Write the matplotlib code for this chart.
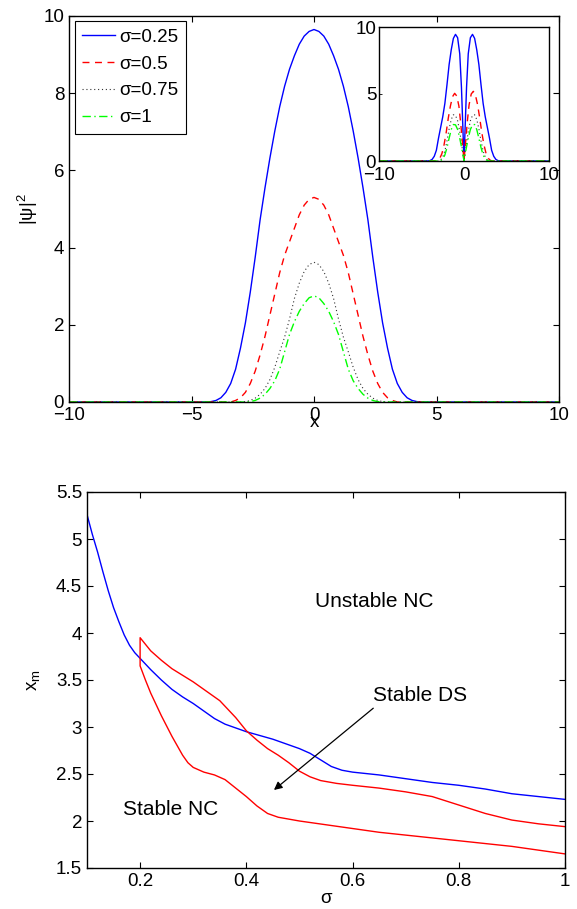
import numpy as np
import matplotlib
matplotlib.use("Agg")
import matplotlib.pyplot as plt

plt.rcParams['font.family'] = ['Liberation Sans', 'DejaVu Sans']
plt.rcParams['mathtext.fontset'] = 'custom'
plt.rcParams['mathtext.rm'] = 'Liberation Sans'
plt.rcParams['mathtext.it'] = 'Liberation Sans'

# ---------------- top panel data: |psi|^2 profiles ----------------
x_main = [-10, -4.4, -4.2, -4.0, -3.8, -3.6, -3.4, -3.2, -3.0, -2.8, -2.6, -2.4, -2.2,
          -2.0, -1.8, -1.6, -1.4, -1.2, -1.0, -0.8, -0.6, -0.4, -0.2, 0.0,
          0.2, 0.4, 0.6, 0.8, 1.0, 1.2, 1.4, 1.6, 1.8, 2.0, 2.2, 2.4, 2.6, 2.8,
          3.0, 3.2, 3.4, 3.6, 3.8, 4.0, 4.2, 4.4, 10]
psi_025 = [0, 0, 0.01, 0.04, 0.11, 0.25, 0.48, 0.85, 1.4, 2.05, 2.85, 3.75, 4.72,
           5.55, 6.32, 7.02, 7.65, 8.18, 8.62, 8.97, 9.27, 9.48, 9.6, 9.65,
           9.6, 9.48, 9.27, 8.97, 8.62, 8.18, 7.65, 7.02, 6.32, 5.55, 4.72, 3.75, 2.85, 2.05,
           1.4, 0.85, 0.48, 0.25, 0.11, 0.04, 0.01, 0, 0]
psi_05 = [0, 0, 0, 0, 0, 0, 0, 0.04, 0.11, 0.25, 0.48, 0.8, 1.22,
          1.7, 2.25, 2.8, 3.35, 3.8, 4.15, 4.5, 4.85, 5.1, 5.25, 5.3,
          5.25, 5.1, 4.85, 4.5, 4.15, 3.8, 3.35, 2.8, 2.25, 1.7, 1.22, 0.8, 0.48, 0.25,
          0.11, 0.04, 0, 0, 0, 0, 0, 0, 0]
psi_075 = [0, 0, 0, 0, 0, 0, 0, 0, 0, 0.01, 0.04, 0.1, 0.2,
           0.35, 0.58, 0.9, 1.3, 1.68, 2.15, 2.68, 3.08, 3.38, 3.56, 3.62,
           3.56, 3.38, 3.08, 2.68, 2.15, 1.68, 1.3, 0.9, 0.58, 0.35, 0.2, 0.1, 0.04, 0.01,
           0, 0, 0, 0, 0, 0, 0, 0, 0]
psi_1 = [0, 0, 0, 0, 0, 0, 0, 0, 0, 0, 0.01, 0.04, 0.1,
         0.2, 0.35, 0.55, 0.85, 1.3, 1.75, 2.08, 2.35, 2.55, 2.7, 2.75,
         2.7, 2.55, 2.35, 2.08, 1.75, 1.3, 0.85, 0.55, 0.35, 0.2, 0.1, 0.04, 0.01, 0,
         0, 0, 0, 0, 0, 0, 0, 0, 0]

# ---------------- inset data: dipole profiles ----------------
x_in_b = [-10, -4.25, -4.0, -3.75, -3.5, -3.25, -3.0, -2.75, -2.5, -2.25, -2.0, -1.75, -1.5,
          -1.25, -1.0, -0.75, -0.5, -0.3, -0.15, 0.0, 0.15, 0.3, 0.5, 0.75, 1.0, 1.25,
          1.5, 1.75, 2.0, 2.25, 2.5, 2.75, 3.0, 3.25, 3.5, 3.75, 4.0, 4.25, 10]
in_025 = [0, 0, 0.03, 0.12, 0.35, 0.8, 1.7, 2.5, 3.3, 4.3, 5.7, 7.2, 8.3,
          9.15, 9.45, 9.2, 8.0, 5.5, 2.8, 0.0, 2.8, 5.5, 8.0, 9.2, 9.45, 9.15,
          8.3, 7.2, 5.7, 4.3, 3.3, 2.5, 1.7, 0.8, 0.35, 0.12, 0.03, 0, 0]
x_in_r = [-10, -3.35, -3.1, -2.85, -2.6, -2.35, -2.1, -1.85, -1.6, -1.35, -1.1, -0.85,
          -0.6, -0.4, -0.2, 0.0, 0.2, 0.4, 0.6, 0.85, 1.1, 1.35, 1.6, 1.85, 2.1,
          2.35, 2.6, 2.85, 3.1, 3.35, 10]
in_05 = [0, 0, 0.05, 0.2, 0.55, 1.2, 2.1, 3.2, 4.1, 4.8, 5.05, 4.85, 4.1, 2.9, 1.5, 0.0,
         1.5, 3.0, 4.2, 5.0, 5.2, 4.9, 4.2, 3.2, 2.1, 1.2, 0.55, 0.2, 0.05, 0, 0]
x_in_k = [-10, -3.0, -2.75, -2.5, -2.25, -2.0, -1.75, -1.5, -1.25, -1.0, -0.75, -0.5,
          -0.25, 0.0, 0.25, 0.5, 0.75, 1.0, 1.25, 1.5, 1.75, 2.0, 2.25, 2.5, 2.75, 3.0, 10]
in_075 = [0, 0, 0.08, 0.3, 0.75, 1.5, 2.4, 3.1, 3.45, 3.4, 3.0, 2.2, 1.1, 0.0,
          1.1, 2.2, 3.0, 3.4, 3.45, 3.1, 2.4, 1.5, 0.75, 0.3, 0.08, 0, 0]
in_1 = [0, 0, 0.03, 0.15, 0.45, 1.0, 1.7, 2.35, 2.72, 2.7, 2.35, 1.7, 0.9, 0.0,
        0.9, 1.7, 2.35, 2.7, 2.72, 2.35, 1.7, 1.0, 0.45, 0.15, 0.03, 0, 0]

# ---------------- bottom panel data ----------------
sig_blue = [0.1, 0.11, 0.12, 0.13, 0.14, 0.15, 0.16, 0.17, 0.18, 0.19, 0.2, 0.22, 0.24,
            0.26, 0.28, 0.30, 0.32, 0.34, 0.36, 0.38, 0.40, 0.45, 0.50, 0.52, 0.54,
            0.56, 0.58, 0.60, 0.65, 0.70, 0.75, 0.80, 0.85, 0.90, 0.95, 1.0]
xm_blue = [5.26, 5.05, 4.86, 4.65, 4.45, 4.27, 4.12, 3.98, 3.87, 3.79, 3.73, 3.61, 3.50,
           3.40, 3.32, 3.25, 3.17, 3.09, 3.03, 2.99, 2.95, 2.87, 2.77, 2.72, 2.65,
           2.58, 2.54, 2.52, 2.49, 2.45, 2.41, 2.38, 2.34, 2.29, 2.26, 2.23]
sig_red_up = [0.2, 0.21, 0.22, 0.24, 0.26, 0.28, 0.30, 0.32, 0.34, 0.35, 0.36, 0.38,
              0.40, 0.42, 0.44, 0.46, 0.48, 0.50, 0.52, 0.54, 0.57, 0.60, 0.65, 0.70,
              0.75, 0.80, 0.85, 0.90, 0.95, 1.0]
xm_red_up = [3.95, 3.88, 3.81, 3.71, 3.62, 3.55, 3.48, 3.40, 3.32, 3.28, 3.22, 3.10,
             2.96, 2.86, 2.77, 2.70, 2.62, 2.53, 2.47, 2.43, 2.40, 2.38, 2.35, 2.31,
             2.26, 2.17, 2.08, 2.01, 1.97, 1.94]
sig_red_lo = [0.2, 0.21, 0.22, 0.24, 0.26, 0.28, 0.29, 0.30, 0.32, 0.34, 0.36, 0.38,
              0.40, 0.42, 0.44, 0.46, 0.50, 0.55, 0.60, 0.65, 0.70, 0.75, 0.80, 0.85,
              0.90, 0.95, 1.0]
xm_red_lo = [3.65, 3.50, 3.36, 3.12, 2.90, 2.70, 2.62, 2.57, 2.52, 2.49, 2.44, 2.35,
             2.26, 2.16, 2.08, 2.04, 2.00, 1.96, 1.92, 1.88, 1.85, 1.82, 1.79, 1.76,
             1.73, 1.69, 1.65]

FS = 13.5
fig = plt.figure(figsize=(5.77, 9.09), dpi=100)

def style(ax):
    ax.tick_params(direction='in', top=True, right=True, labelsize=FS, length=4, width=0.8)
    for s in ax.spines.values():
        s.set_linewidth(1.0)

# top axes
ax1 = fig.add_axes([69/577, 1-402/909, 490/577, 386/909])
ax1.plot(x_main, psi_025, color='#0000ff', lw=1.0, ls='-', label='σ=0.25')
ax1.plot(x_main, psi_05, color='#ff0000', lw=1.0, ls=(0, (5, 4)), label='σ=0.5')
ax1.plot(x_main, psi_075, color='#333333', lw=0.8, ls=(0, (1, 2.5)), label='σ=0.75')
ax1.plot(x_main, psi_1, color='#00ff00', lw=1.0, ls=(0, (6, 2.5, 1, 2.5)), label='σ=1')
ax1.set_xlim(-10, 10)
ax1.set_ylim(0, 10)
ax1.set_xticks([-10, -5, 0, 5, 10])
ax1.set_xticklabels(['\u221210', '\u22125', '0', '5', '10'])
ax1.set_yticks([0, 2, 4, 6, 8, 10])
style(ax1)
ax1.set_xlabel('x', fontsize=FS)
ax1.xaxis.set_label_coords(0.5, -0.031)
ax1.set_ylabel('|ψ|$^2$', fontsize=FS)
ax1.yaxis.set_label_coords(-0.06, 0.5)
leg = ax1.legend(loc='upper left', bbox_to_anchor=(0.012, 0.987), borderaxespad=0,
                 fontsize=FS, handlelength=1.75, handletextpad=0.2, labelspacing=0.52,
                 borderpad=0.4, fancybox=False, framealpha=1, edgecolor='black')
leg.get_frame().set_linewidth(0.8)

# inset
ax2 = fig.add_axes([379/577, 1-161/909, 170/577, 134/909])
ax2.plot(x_in_b, in_025, color='#0000ff', lw=1.0)
ax2.plot(x_in_r, in_05, color='#ff0000', lw=1.0, ls=(0, (5, 4)))
ax2.plot(x_in_k, in_075, color='#333333', lw=0.8, ls=(0, (1, 2.5)))
ax2.plot(x_in_k, in_1, color='#00ff00', lw=1.0, ls=(0, (6, 2.5, 1, 2.5)))
ax2.set_xlim(-10, 10)
ax2.set_ylim(0, 10)
ax2.set_xticks([-10, 0, 10])
ax2.set_xticklabels(['\u221210', '0', '10'])
ax2.set_yticks([0, 5, 10])
ax2.tick_params(axis='x', direction='in', labelsize=FS, length=2, width=0.6, pad=4)
ax2.tick_params(axis='y', direction='in', labelsize=FS, length=2, width=0.6, pad=2)
for s in ax2.spines.values():
    s.set_linewidth(1.0)

# bottom axes
ax3 = fig.add_axes([87/577, 1-868/909, 478/577, 376/909])
ax3.plot(sig_blue, xm_blue, color='#0000ff', lw=1.0)
ax3.plot(sig_red_up[::-1] + sig_red_lo, xm_red_up[::-1] + xm_red_lo, color='#ff0000', lw=1.0)
ax3.set_xlim(0.1, 1.0)
ax3.set_ylim(1.5, 5.5)
ax3.set_xticks([0.2, 0.4, 0.6, 0.8, 1.0])
ax3.set_xticklabels(['0.2', '0.4', '0.6', '0.8', '1'])
ax3.set_yticks([1.5, 2, 2.5, 3, 3.5, 4, 4.5, 5, 5.5])
ax3.set_yticklabels(['1.5', '2', '2.5', '3', '3.5', '4', '4.5', '5', '5.5'])
style(ax3)
ax3.set_xlabel('σ', fontsize=FS, labelpad=0)
ax3.set_ylabel('x$_{\\rm m}$', fontsize=FS)
ax3.yaxis.set_label_coords(-0.095, 0.5)
ax3.text(0.53, 4.34, 'Unstable NC', fontsize=15, va='center', ha='left')
ax3.text(0.639, 3.33, 'Stable DS', fontsize=15, va='center', ha='left')
ax3.text(0.168, 2.12, 'Stable NC', fontsize=15, va='center', ha='left')
ax3.annotate('', xy=(0.452, 2.33), xytext=(0.639, 3.20),
             arrowprops=dict(arrowstyle='-|>', color='black', lw=0.9,
                             mutation_scale=12, shrinkA=0, shrinkB=0))

fig.savefig('out.png', dpi=100)
